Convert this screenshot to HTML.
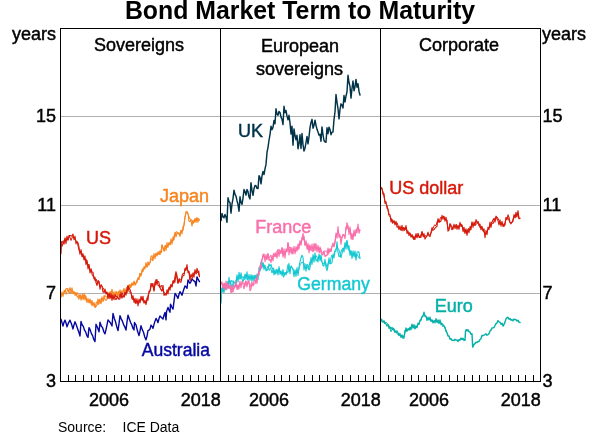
<!DOCTYPE html>
<html><head><meta charset="utf-8"><title>Bond Market Term to Maturity</title>
<style>html,body{margin:0;padding:0;background:#fff}body{width:600px;height:438px;overflow:hidden}</style>
</head><body>
<svg width="600" height="438" viewBox="0 0 600 438" style="display:block;will-change:transform">
<rect width="600" height="438" fill="#fff"/>
<line x1="60.5" x2="540.5" y1="293.5" y2="293.5" stroke="#b0b0b0" stroke-width="1" shape-rendering="crispEdges"/>
<line x1="60.5" x2="540.5" y1="205.5" y2="205.5" stroke="#b0b0b0" stroke-width="1" shape-rendering="crispEdges"/>
<line x1="60.5" x2="540.5" y1="116.5" y2="116.5" stroke="#b0b0b0" stroke-width="1" shape-rendering="crispEdges"/>
<path d="M61.00,297.22 L62.00,291.97 L63.00,296.48 L64.00,290.60 L65.00,291.18 L66.00,288.81 L67.00,288.50 L68.00,288.80 L69.00,292.16 L70.00,293.35 L71.00,291.80 L72.00,287.87 L73.00,293.61 L74.00,291.49 L75.00,295.48 L76.00,292.31 L77.00,296.29 L78.00,297.15 L79.00,299.21 L80.00,294.00 L81.00,300.28 L82.00,295.32 L83.00,299.60 L84.00,293.26 L85.00,299.87 L86.00,296.22 L87.00,302.74 L88.00,298.45 L89.00,302.59 L90.00,298.96 L91.00,304.19 L92.00,300.45 L93.00,305.99 L94.00,302.27 L95.00,307.69 L96.00,306.68 L97.00,304.62 L98.00,298.94 L99.00,303.95 L100.00,298.90 L101.00,303.65 L102.00,296.75 L103.00,301.54 L104.00,295.80 L105.00,299.26 L106.00,300.43 L107.00,299.42 L108.00,292.49 L109.00,298.15 L110.00,291.77 L111.00,294.72 L112.00,289.18 L113.00,295.85 L114.00,291.77 L115.00,296.44 L116.00,291.18 L117.00,294.75 L118.00,291.87 L119.00,296.45 L120.00,289.91 L121.00,294.32 L122.00,294.98 L123.00,290.68 L124.00,288.42 L125.00,292.36 L126.00,291.78 L127.00,290.15 L128.00,286.00 L129.00,289.75 L130.00,284.36 L131.00,286.76 L132.00,282.86 L133.00,285.55 L134.00,281.03 L135.00,285.21 L136.00,282.93 L137.00,282.45 L138.00,277.52 L139.00,279.79 L140.00,273.36 L141.00,276.26 L142.00,269.69 L143.00,271.58 L144.00,266.49 L145.00,268.48 L146.00,262.61 L147.00,266.85 L148.00,261.74 L149.00,265.15 L150.00,262.52 L151.00,256.51 L152.00,255.66 L153.00,260.32 L154.00,253.53 L155.00,258.65 L156.00,253.11 L157.00,256.08 L158.00,251.65 L159.00,254.50 L160.00,250.67 L160.75,252.65 L161.50,252.35 L162.00,244.89 L163.00,247.23 L164.00,251.48 L165.00,245.52 L166.00,250.48 L167.00,242.50 L168.00,247.27 L169.00,242.46 L170.00,244.59 L171.00,238.82 L172.00,244.09 L173.00,236.80 L174.00,239.70 L175.00,232.27 L176.00,236.78 L177.00,232.73 L178.00,233.66 L179.00,232.90 L180.00,236.40 L181.00,230.56 L182.00,233.80 L183.00,226.48 L184.00,225.79 L185.00,216.68 L186.00,213.41 L187.00,211.57 L188.00,213.53 L189.00,221.12 L190.00,221.37 L191.00,220.07 L192.00,226.07 L193.00,220.30 L194.00,222.52 L195.00,218.66 L196.00,222.43 L197.00,217.43 L197.83,222.25 L198.67,218.93 L199.50,220.00" fill="none" stroke="#f78520" stroke-width="1.1" stroke-linejoin="round" stroke-linecap="round"/>
<path d="M61.00,296.99 L62.33,293.66 L63.67,294.76 L65.00,290.11 L66.25,294.34 L67.50,289.53 L68.75,292.41 L70.00,287.49 L71.25,293.32 L72.50,290.84 L73.75,294.07 L75.00,292.23 L76.25,295.55 L77.50,292.61 L78.75,296.95 L80.00,295.17 L81.25,298.29 L82.50,294.20 L83.75,298.91 L85.00,294.90 L86.50,301.25 L88.00,300.02 L89.33,303.12 L90.67,300.02 L92.00,305.65 L93.50,303.23 L95.00,306.85 L96.50,301.80 L98.00,304.99 L99.33,299.52 L100.67,303.23 L102.00,298.29 L103.50,300.94 L105.00,295.28 L106.50,297.45 L108.00,294.89 L109.50,296.43 L111.00,291.23 L112.00,293.74 L113.00,292.37 L115.00,294.85 L116.25,292.05 L117.50,295.99 L118.75,290.93 L120.00,294.61 L121.25,290.62 L122.50,294.14 L123.75,289.92 L125.00,291.78 L126.50,287.30 L128.00,289.24 L129.33,284.22 L130.67,287.83 L132.00,282.96 L133.25,284.79 L134.50,281.75 L135.75,284.50 L137.00,279.53 L138.50,279.44 L140.00,273.24 L141.50,274.22 L143.00,268.02 L144.33,269.33 L145.67,265.73 L147.00,267.29 L148.50,264.38 L150.00,262.91 L151.25,258.71 L152.50,260.70 L153.75,256.29 L155.00,256.68 L156.25,253.28 L157.50,255.16 L158.75,252.09 L160.00,254.89 L161.50,248.24 L162.00,244.82 L163.00,248.66 L164.33,250.89 L165.67,245.08 L167.00,247.64 L168.50,243.51 L170.00,245.08 L171.50,240.62 L173.00,241.48 L174.50,234.23 L176.00,231.73 L178.00,232.51 L179.50,235.40 L181.00,230.23 L183.00,230.82 L185.00,217.52 L186.00,211.38 L188.00,214.27 L190.00,219.09 L192.00,220.04 L193.50,223.42 L195.00,218.85 L197.00,218.61 L198.25,218.81 L199.50,220.00" fill="none" stroke="#f78520" stroke-width="1.0" stroke-linejoin="round" stroke-linecap="round"/>
<path d="M61.00,319.20 L62.00,322.64 L63.00,325.99 L64.00,322.36 L65.00,320.15 L66.00,322.86 L67.00,326.83 L68.50,322.79 L70.00,320.20 L71.50,324.07 L73.00,328.93 L74.00,324.91 L75.00,321.82 L76.25,324.76 L77.50,328.42 L78.75,331.91 L80.00,335.94 L81.00,321.54 L82.17,324.98 L83.33,326.40 L84.50,330.18 L85.67,331.85 L86.83,335.55 L88.00,337.33 L89.00,327.63 L90.20,329.89 L91.40,333.64 L92.60,335.64 L93.80,339.51 L95.00,341.55 L96.00,324.17 L97.50,327.53 L99.00,331.87 L100.00,322.30 L101.25,326.03 L102.50,327.57 L103.75,331.58 L105.00,333.84 L106.50,327.36 L108.00,319.86 L109.33,321.42 L110.67,323.25 L112.00,326.00 L113.00,313.47 L114.25,318.20 L115.50,321.73 L116.75,326.69 L118.00,330.61 L119.00,323.61 L120.00,315.67 L121.20,318.87 L122.40,321.19 L123.60,324.57 L124.80,326.94 L126.00,330.07 L127.00,321.89 L128.00,315.09 L129.25,318.72 L130.50,322.35 L131.75,324.75 L133.00,328.45 L134.00,329.92 L134.50,322.57 L136.00,324.82 L137.50,331.05 L139.00,335.61 L140.00,331.24 L141.00,325.64 L142.25,329.61 L143.50,332.26 L144.75,336.95 L146.00,339.86 L147.00,336.08 L148.00,330.65 L149.00,330.12 L150.00,329.08 L151.00,325.07 L152.00,326.39 L153.00,328.44 L154.50,322.63 L156.00,318.40 L157.00,320.07 L158.00,322.65 L159.00,318.59 L160.00,315.93 L161.50,317.61 L163.00,319.12 L164.00,315.19 L165.00,312.58 L166.00,319.90 L166.50,311.84 L168.00,307.39 L169.00,310.31 L170.00,312.30 L170.50,304.13 L171.75,306.99 L173.00,309.12 L174.00,301.45 L175.00,293.48 L176.50,295.34 L178.00,298.45 L179.00,294.31 L180.00,291.77 L181.00,293.09 L182.00,295.19 L183.50,290.18 L185.00,285.92 L186.00,286.74 L187.00,288.37 L188.00,279.88 L189.00,281.90 L190.00,283.21 L191.00,281.55 L192.00,278.83 L193.50,280.62 L195.00,281.63 L196.00,285.96 L197.00,276.86 L198.25,279.73 L199.50,281.70" fill="none" stroke="#0508a0" stroke-width="1.4" stroke-linejoin="round" stroke-linecap="round"/>
<path d="M60.80,253.77 L61.30,242.88 L62.00,241.20 L63.00,242.06 L64.00,244.30 L65.00,237.91 L66.00,243.66 L67.00,236.06 L68.00,240.33 L69.00,235.47 L70.00,235.57 L71.00,235.84 L72.00,236.29 L73.00,234.02 L74.00,239.75 L75.00,236.16 L76.00,243.89 L77.00,241.65 L78.00,242.77 L79.00,247.02 L80.00,254.51 L81.00,249.63 L82.00,256.57 L83.00,253.65 L84.00,260.05 L85.00,256.05 L86.00,264.62 L87.00,260.47 L88.00,269.03 L89.00,264.25 L90.00,273.04 L91.00,268.55 L92.00,271.90 L93.00,272.29 L94.00,278.98 L95.00,277.27 L96.00,282.68 L97.00,285.48 L98.00,280.51 L99.00,281.49 L100.00,289.28 L101.00,284.50 L102.00,286.20 L103.00,292.08 L104.00,292.19 L105.00,288.94 L106.00,294.05 L107.00,291.93 L108.00,298.53 L109.00,293.06 L110.00,298.70 L111.00,293.65 L112.00,300.34 L113.00,294.99 L114.00,299.62 L115.00,294.68 L116.00,296.40 L117.00,295.96 L118.00,298.59 L119.00,299.42 L120.00,298.61 L121.00,292.49 L122.00,298.10 L123.00,295.92 L124.00,297.30 L125.00,292.19 L126.00,295.22 L127.00,288.89 L128.00,286.12 L129.00,288.06 L130.00,289.31 L131.00,292.35 L132.00,298.90 L133.00,295.59 L134.00,302.44 L135.00,298.23 L136.00,303.65 L137.00,298.72 L138.00,305.92 L139.00,298.96 L140.00,302.99 L141.00,296.26 L142.00,300.05 L143.00,296.25 L144.00,303.20 L145.00,300.31 L146.00,304.68 L147.00,297.72 L148.00,300.25 L149.00,290.94 L150.00,291.26 L151.00,283.41 L152.00,286.15 L153.00,283.52 L154.00,291.30 L155.00,281.74 L156.00,284.82 L157.00,279.62 L158.00,285.26 L159.00,285.92 L160.00,287.71 L161.00,289.63 L162.00,291.21 L163.00,285.40 L164.00,295.38 L165.00,293.53 L166.00,295.30 L167.00,289.80 L168.00,293.94 L169.00,287.26 L170.00,290.16 L171.00,284.27 L172.00,287.08 L173.00,280.77 L174.00,283.26 L175.00,276.41 L176.00,271.67 L177.00,275.54 L178.00,282.97 L179.00,278.95 L180.00,282.17 L181.00,282.21 L182.00,277.85 L183.00,275.60 L184.00,275.43 L185.00,268.66 L186.00,270.35 L187.00,264.63 L188.00,272.70 L189.00,271.65 L190.00,279.77 L191.00,274.16 L192.00,277.45 L193.00,272.87 L194.00,277.12 L195.00,269.53 L196.00,273.99 L197.00,268.39 L198.00,272.26 L198.75,270.98 L199.50,276.70" fill="none" stroke="#d5190a" stroke-width="1.1" stroke-linejoin="round" stroke-linecap="round"/>
<path d="M60.80,253.95 L61.30,243.35 L62.00,246.54 L63.50,240.69 L65.00,239.30 L66.50,238.49 L68.00,239.69 L69.50,236.07 L71.00,240.47 L72.50,236.63 L74.00,238.44 L76.00,240.31 L77.33,242.11 L78.67,249.08 L80.00,252.86 L81.25,251.23 L82.50,257.14 L83.75,255.32 L85.00,260.23 L86.25,259.17 L87.50,263.43 L88.75,265.20 L90.00,270.89 L91.25,270.84 L92.50,275.99 L93.75,276.06 L95.00,280.67 L96.25,279.08 L97.50,284.33 L98.75,281.68 L100.00,286.97 L101.25,285.10 L102.50,287.23 L103.75,289.19 L105.00,292.92 L106.50,292.11 L108.00,296.15 L109.33,293.61 L110.67,297.36 L112.00,294.86 L113.33,298.60 L114.67,296.84 L116.00,299.98 L117.33,296.68 L118.67,299.01 L120.00,294.30 L121.25,297.44 L122.50,292.95 L123.75,296.97 L125.00,292.09 L127.00,293.31 L128.00,285.44 L129.00,291.79 L131.00,292.62 L132.50,299.50 L134.00,299.11 L135.33,303.36 L136.67,300.73 L138.00,303.40 L139.50,302.08 L141.00,299.92 L142.00,298.93 L143.50,302.06 L145.00,302.71 L146.50,302.93 L148.00,295.17 L150.00,291.01 L152.00,283.32 L154.00,290.48 L156.00,279.45 L157.33,283.61 L158.67,281.27 L160.00,287.51 L161.50,285.02 L163.00,290.55 L165.00,293.65 L166.50,294.57 L168.00,289.76 L169.33,287.91 L170.67,285.20 L172.00,286.35 L173.50,280.52 L175.00,282.32 L176.00,273.36 L178.00,283.58 L179.50,278.67 L181.00,280.49 L182.50,273.65 L184.00,273.67 L185.50,267.77 L187.00,269.12 L189.00,271.75 L190.00,280.68 L191.50,279.29 L193.00,276.79 L194.50,271.87 L196.00,273.60 L198.00,272.02 L199.50,276.70" fill="none" stroke="#d5190a" stroke-width="1.0" stroke-linejoin="round" stroke-linecap="round"/>
<path d="M221.00,302.33 L221.50,288.11 L222.25,291.73 L223.00,284.29 L224.00,292.68 L225.00,284.62 L226.00,289.60 L227.00,283.32 L228.00,288.03 L229.00,277.40 L230.00,285.65 L231.00,280.37 L232.00,281.22 L233.00,281.08 L234.00,286.87 L235.00,285.66 L236.00,285.17 L237.00,274.88 L238.00,282.21 L239.00,272.18 L240.00,279.28 L241.00,272.90 L242.00,279.06 L243.00,281.84 L244.00,278.66 L245.00,274.02 L246.00,279.15 L247.00,271.78 L248.00,280.48 L249.00,274.59 L250.00,280.51 L251.00,274.61 L252.00,281.37 L253.00,275.18 L254.00,281.28 L255.00,274.97 L256.00,278.65 L257.00,274.12 L258.00,279.64 L259.00,267.43 L260.00,269.56 L261.00,261.62 L262.00,267.94 L263.00,262.43 L264.00,269.73 L265.00,265.25 L266.00,270.87 L267.00,270.43 L268.00,269.16 L269.00,263.88 L270.00,266.23 L271.00,264.44 L272.00,267.77 L273.00,268.87 L274.00,275.00 L275.00,270.06 L276.00,273.77 L277.00,269.17 L278.00,275.01 L279.00,266.47 L280.00,274.40 L281.00,271.05 L282.00,275.67 L283.00,269.46 L284.00,276.04 L285.00,272.65 L286.00,274.81 L287.00,272.00 L288.00,272.25 L289.00,263.36 L290.00,273.80 L291.00,265.71 L292.00,267.57 L293.00,269.13 L294.00,276.58 L295.00,269.82 L296.00,276.53 L297.00,267.61 L298.00,275.49 L299.00,266.76 L300.00,261.85 L301.00,257.95 L302.00,255.16 L303.00,257.35 L304.00,269.89 L305.00,264.55 L306.00,271.26 L307.00,264.69 L308.00,264.80 L309.00,270.06 L310.00,268.17 L311.00,257.47 L312.00,264.57 L313.00,254.59 L314.00,262.18 L315.00,252.88 L316.00,260.92 L317.00,259.63 L318.00,261.88 L319.00,254.01 L320.00,260.75 L321.00,254.81 L322.00,261.70 L323.00,265.73 L324.00,265.90 L325.00,259.34 L326.00,267.02 L327.00,270.68 L328.00,266.03 L329.00,257.87 L330.00,263.82 L331.00,263.65 L332.00,262.65 L333.00,254.14 L334.00,257.98 L335.00,251.21 L336.00,251.27 L337.00,241.77 L338.00,252.15 L339.00,256.49 L340.00,256.34 L341.00,251.80 L342.00,249.71 L343.00,248.44 L344.00,251.90 L345.00,242.55 L346.00,249.27 L347.00,240.70 L348.00,248.93 L349.00,245.73 L350.00,255.40 L351.00,250.95 L352.00,258.53 L353.00,250.85 L354.00,256.79 L355.00,250.94 L356.00,260.19 L357.00,252.28 L358.00,251.73 L359.00,252.09 L360.00,258.30" fill="none" stroke="#14c8d2" stroke-width="1.1" stroke-linejoin="round" stroke-linecap="round"/>
<path d="M221.00,303.29 L221.50,288.59 L223.00,292.40 L224.50,286.11 L226.00,289.49 L227.50,281.40 L229.00,282.89 L230.50,281.36 L232.00,288.18 L233.50,280.82 L235.00,283.90 L237.00,276.61 L238.50,279.27 L240.00,277.97 L241.50,278.45 L243.00,276.40 L244.50,279.60 L246.00,274.36 L247.50,279.92 L249.00,275.83 L250.50,279.14 L252.00,275.61 L253.50,278.63 L255.00,275.29 L256.50,279.39 L258.00,273.90 L260.00,271.31 L262.00,263.23 L263.50,263.72 L265.00,267.11 L266.50,269.51 L268.00,266.06 L269.33,270.60 L270.67,267.37 L272.00,272.97 L273.50,267.86 L275.00,274.23 L276.50,269.17 L278.00,272.75 L279.33,268.46 L280.67,273.76 L282.00,271.42 L283.50,277.25 L285.00,272.34 L286.50,272.98 L288.00,264.56 L289.33,271.93 L290.67,266.94 L292.00,267.40 L293.50,270.11 L295.00,273.99 L296.50,269.68 L298.00,273.24 L300.00,264.87 L302.00,262.02 L304.00,263.74 L305.50,264.05 L307.00,266.21 L308.50,269.38 L310.00,261.72 L312.00,258.76 L313.50,256.47 L315.00,258.94 L316.50,255.76 L318.00,259.49 L319.50,255.32 L321.00,260.96 L322.50,262.37 L324.00,263.91 L325.50,262.05 L327.00,267.27 L328.50,261.69 L330.00,263.68 L331.50,255.29 L333.00,258.03 L335.00,250.47 L337.00,247.40 L339.00,249.78 L341.00,257.73 L343.00,249.72 L345.00,245.26 L347.00,240.46 L349.00,251.06 L351.00,250.58 L352.50,256.46 L354.00,252.51 L355.50,257.52 L357.00,254.09 L359.00,258.01 L360.00,258.30" fill="none" stroke="#14c8d2" stroke-width="1.0" stroke-linejoin="round" stroke-linecap="round"/>
<path d="M221.00,284.68 L222.00,281.72 L223.00,288.09 L224.00,283.00 L225.00,290.00 L226.00,281.15 L227.00,289.24 L228.00,283.00 L229.00,288.25 L230.00,285.32 L231.00,293.08 L232.00,285.71 L233.00,291.99 L234.00,285.16 L235.00,287.23 L236.00,281.16 L237.00,289.71 L238.00,284.91 L239.00,288.85 L240.00,281.05 L241.00,287.93 L242.00,281.37 L243.00,282.96 L244.00,283.25 L245.00,286.21 L246.00,280.92 L247.00,286.86 L248.00,280.99 L249.00,280.73 L250.00,290.71 L251.00,289.09 L252.00,282.57 L253.00,286.08 L254.00,284.00 L255.00,283.77 L256.00,278.61 L257.00,283.50 L258.00,273.99 L259.00,275.44 L260.00,265.62 L261.00,268.89 L262.00,260.07 L263.00,257.62 L264.00,253.76 L265.00,261.69 L266.00,254.53 L267.00,259.48 L268.00,254.03 L269.00,260.34 L270.00,259.12 L271.00,262.63 L272.00,255.38 L273.00,260.78 L274.00,253.01 L275.00,256.69 L276.00,252.82 L277.00,258.30 L278.00,249.24 L279.00,256.38 L280.00,250.18 L281.00,253.45 L282.00,248.27 L283.00,257.20 L284.00,248.68 L285.00,258.21 L286.00,248.82 L287.00,251.91 L288.00,242.68 L289.00,254.86 L290.00,247.32 L291.00,252.95 L292.00,247.46 L293.00,253.90 L294.00,246.35 L295.00,253.82 L296.00,246.66 L297.00,251.35 L298.00,244.11 L299.00,248.90 L300.00,240.66 L301.00,244.04 L302.00,237.22 L303.00,239.82 L304.00,236.08 L305.00,245.72 L306.00,240.52 L307.00,248.93 L308.00,243.26 L309.00,252.97 L310.00,244.99 L311.00,250.63 L312.00,244.02 L313.00,252.02 L314.00,243.34 L315.00,250.93 L316.00,243.64 L317.00,251.92 L318.00,245.27 L319.00,251.05 L320.00,246.86 L321.00,252.62 L322.00,254.51 L323.00,255.02 L324.00,251.24 L325.00,256.61 L326.00,255.41 L327.00,255.60 L328.00,248.06 L329.00,253.18 L330.00,248.50 L331.00,251.62 L332.00,246.40 L333.00,242.99 L334.00,246.95 L335.00,243.41 L336.00,233.17 L337.00,238.11 L338.00,226.45 L339.00,237.34 L340.00,234.71 L341.00,244.40 L342.00,237.17 L343.00,234.24 L344.00,235.06 L345.00,238.65 L346.00,226.70 L347.00,228.62 L348.00,225.47 L349.00,234.64 L350.00,226.84 L351.00,238.59 L352.00,233.37 L353.00,239.59 L354.00,230.02 L355.00,235.80 L356.00,229.71 L357.00,233.02 L358.00,224.06 L359.00,233.25 L360.00,230.00" fill="none" stroke="#fa6eaa" stroke-width="1.1" stroke-linejoin="round" stroke-linecap="round"/>
<path d="M221.00,282.27 L222.00,284.58 L223.00,287.11 L224.50,283.11 L226.00,288.62 L227.50,283.58 L229.00,288.70 L230.50,285.54 L232.00,292.36 L233.50,290.10 L235.00,286.61 L236.50,284.20 L238.00,289.48 L239.50,283.52 L241.00,284.83 L242.50,282.49 L244.00,288.88 L245.50,280.81 L247.00,284.44 L248.50,281.95 L250.00,287.39 L251.50,282.42 L253.00,284.67 L254.50,279.98 L256.00,283.33 L258.00,273.65 L260.00,269.17 L262.00,258.94 L263.00,254.09 L265.00,256.94 L266.50,259.64 L268.00,253.41 L269.33,258.23 L270.67,255.26 L272.00,260.03 L273.50,253.64 L275.00,256.92 L276.50,251.37 L278.00,250.68 L279.33,249.67 L280.67,253.49 L282.00,247.42 L283.50,255.53 L285.00,251.65 L287.00,251.38 L288.00,242.74 L289.00,247.36 L290.50,247.39 L292.00,254.21 L293.50,248.62 L295.00,252.06 L296.50,247.62 L298.00,249.85 L299.50,242.61 L301.00,245.53 L303.00,233.33 L305.00,245.09 L306.50,243.68 L308.00,249.90 L309.33,244.96 L310.67,249.65 L312.00,250.91 L313.50,250.65 L315.00,244.05 L316.50,249.56 L318.00,247.06 L319.33,253.10 L320.67,248.12 L322.00,253.61 L323.50,251.15 L325.00,251.28 L326.50,250.80 L328.00,254.50 L329.33,249.18 L330.67,251.99 L332.00,245.99 L334.00,245.94 L336.00,235.50 L338.00,231.91 L340.00,235.98 L342.00,238.08 L343.50,234.84 L345.00,236.23 L347.00,222.63 L348.50,230.03 L350.00,228.74 L352.00,239.54 L353.50,234.60 L355.00,236.32 L356.50,228.93 L358.00,226.97 L359.00,229.27 L360.00,230.00" fill="none" stroke="#fa6eaa" stroke-width="1.0" stroke-linejoin="round" stroke-linecap="round"/>
<path d="M221.00,220.62 L222.00,213.54 L223.00,216.69 L224.00,217.85 L225.00,214.40 L226.00,216.97 L227.00,222.28 L228.00,197.81 L229.00,201.58 L230.00,202.68 L231.00,213.12 L232.00,203.80 L233.00,198.56 L234.00,190.18 L235.00,194.41 L236.00,196.16 L237.00,200.70 L238.00,204.61 L239.00,211.20 L240.00,196.83 L241.00,202.60 L242.00,204.38 L243.00,198.08 L244.00,189.48 L245.00,191.62 L246.00,195.14 L247.00,189.47 L248.00,191.60 L249.00,197.02 L250.00,198.88 L251.00,182.73 L252.00,190.67 L253.00,195.38 L254.00,188.68 L255.00,185.41 L256.00,185.70 L257.00,188.41 L258.00,188.61 L259.00,175.71 L260.00,177.38 L261.00,183.85 L262.00,175.95 L263.00,171.42 L264.00,174.55 L265.00,168.94 L266.00,164.41 L267.00,152.46 L268.00,147.30 L269.00,140.28 L270.00,134.60 L271.00,126.24 L272.00,129.66 L273.00,127.36 L274.00,120.45 L275.00,123.76 L276.00,108.79 L277.00,114.05 L278.00,115.25 L279.00,111.48 L280.00,112.45 L281.00,117.12 L282.00,119.31 L283.00,124.64 L284.00,106.24 L285.00,112.73 L286.00,110.53 L287.00,116.00 L288.00,119.85 L289.00,115.31 L290.00,122.84 L291.00,133.91 L292.00,126.24 L293.00,145.27 L294.00,128.91 L295.00,135.50 L296.00,139.73 L297.00,135.27 L298.00,148.75 L299.00,143.43 L300.00,134.72 L301.00,148.56 L302.00,133.52 L303.00,144.62 L304.00,151.13 L305.00,148.21 L306.00,142.63 L307.00,136.41 L308.00,143.84 L309.00,136.87 L310.00,127.59 L311.00,122.43 L312.00,119.35 L313.00,128.20 L314.00,125.45 L315.00,120.26 L316.00,125.26 L317.00,129.33 L318.00,132.10 L319.00,135.14 L320.00,134.31 L321.00,141.31 L322.00,126.92 L323.00,134.98 L324.00,140.47 L325.00,141.88 L326.00,142.27 L327.00,127.79 L328.00,133.71 L329.00,127.11 L330.00,129.53 L331.00,134.67 L332.00,132.10 L333.00,132.04 L334.00,119.39 L335.00,112.01 L336.00,94.59 L337.00,102.12 L338.00,108.77 L339.00,118.88 L340.00,109.38 L341.00,103.85 L342.00,105.05 L343.00,107.89 L344.00,95.56 L345.00,101.97 L346.00,96.03 L347.00,91.93 L348.00,75.19 L349.00,82.50 L350.00,86.34 L351.00,98.08 L352.00,88.40 L353.00,81.08 L354.00,90.71 L355.00,86.70 L356.00,79.44 L357.00,87.24 L358.00,83.76 L359.00,91.45 L360.00,95.00" fill="none" stroke="#003348" stroke-width="1.45" stroke-linejoin="round" stroke-linecap="round"/>
<path d="M381.00,319.40 L382.00,321.51 L383.00,322.20 L384.00,320.75 L385.00,323.31 L386.00,324.03 L387.00,325.99 L388.00,324.56 L389.00,328.24 L390.00,326.92 L391.00,328.75 L392.00,327.56 L393.00,329.83 L394.00,328.83 L395.00,332.44 L396.00,330.95 L397.00,331.22 L398.00,332.61 L399.00,335.61 L400.00,333.55 L401.00,337.40 L402.00,334.92 L403.00,338.32 L404.00,336.11 L405.00,332.49 L406.00,327.84 L407.00,331.23 L408.00,328.61 L409.00,330.18 L410.00,327.26 L411.00,329.77 L412.00,324.16 L413.00,328.20 L414.00,324.62 L415.00,328.81 L416.00,325.78 L417.00,327.79 L418.00,323.18 L419.00,324.38 L420.00,320.14 L421.00,320.24 L422.00,316.79 L423.00,316.42 L424.00,312.11 L425.00,316.33 L426.00,316.08 L427.00,320.27 L428.00,317.21 L429.00,320.15 L430.00,317.08 L431.00,321.30 L432.00,319.84 L433.00,322.95 L434.00,320.61 L435.00,322.86 L436.00,318.62 L437.00,322.28 L438.00,321.61 L439.00,323.52 L440.00,319.83 L441.00,324.50 L442.00,323.46 L443.00,324.67 L444.00,325.77 L445.00,327.35 L446.00,330.80" fill="none" stroke="#04b0a8" stroke-width="1.3" stroke-linejoin="round" stroke-linecap="round"/>
<path d="M381.00,318.70 L383.00,320.42 L384.50,323.53 L386.00,322.12 L387.50,323.62 L389.00,325.72 L391.00,331.67 L393.00,327.82 L394.50,331.96 L396.00,331.68 L397.50,334.35 L399.00,333.52 L400.50,335.96 L402.00,335.98 L404.00,338.36 L405.00,330.00 L407.00,331.18 L408.50,328.63 L410.00,329.73 L412.00,325.07 L413.50,327.15 L415.00,328.29 L416.50,327.19 L418.00,324.38 L420.00,321.45 L422.00,316.64 L424.00,314.06 L426.00,317.09 L427.50,318.99 L429.00,318.42 L430.50,320.50 L432.00,319.83 L433.50,321.74 L435.00,320.77 L436.50,321.56 L438.00,319.60 L439.50,322.13 L441.00,322.34 L442.50,326.41 L444.00,325.96 L446.00,330.80" fill="none" stroke="#04b0a8" stroke-width="1.0" stroke-linejoin="round" stroke-linecap="round"/>
<path d="M446.00,331.08 L447.00,332.83 L448.00,336.02 L449.00,336.05 L450.00,339.15 L451.00,338.53 L452.00,340.35 L453.00,340.18 L454.00,340.58 L455.00,339.30 L456.00,340.14 L457.00,339.92 L458.00,341.41 L459.00,339.66 L460.00,340.11 L461.00,338.21 L462.00,339.42 L463.00,338.24 L464.00,340.40 L465.00,340.24 L465.50,331.42 L466.33,329.57 L467.17,330.99 L468.00,329.76 L469.00,331.69 L470.00,332.03 L471.00,334.32 L472.00,333.74 L472.70,347.10 L473.85,344.58 L475.00,343.69 L476.00,342.22 L477.00,342.60 L478.00,341.41 L479.00,341.53 L480.00,339.45 L481.00,338.59 L482.00,335.34 L483.00,335.73 L484.00,335.21 L485.00,334.50 L486.00,333.83 L487.00,335.22 L488.00,334.63 L489.00,333.75 L490.00,331.02 L491.00,330.15 L492.00,327.94 L493.00,327.89 L494.00,327.52 L495.00,325.54 L496.00,323.66 L497.00,322.98 L498.00,320.59 L499.00,321.91 L500.00,322.25 L501.00,324.24 L502.00,323.24 L503.00,326.05 L504.00,324.48 L505.00,322.13 L506.00,318.84 L507.00,317.73 L508.00,317.26 L509.00,319.23 L510.00,318.52 L511.00,320.19 L512.00,319.73 L513.00,320.73 L514.00,319.03 L515.00,319.56 L516.00,319.73 L517.00,321.02 L518.00,320.26 L519.00,322.18 L520.00,322.50" fill="none" stroke="#04b0a8" stroke-width="1.45" stroke-linejoin="round" stroke-linecap="round"/>
<path d="M381.00,187.36 L382.00,188.23 L383.00,194.52 L384.00,193.65 L385.00,203.35 L386.00,201.65 L387.00,208.18 L388.00,208.77 L389.00,214.37 L390.00,214.66 L391.00,221.92 L392.00,219.20 L393.00,222.84 L394.00,220.58 L395.00,224.83 L396.00,221.30 L397.00,227.17 L398.00,226.52 L399.00,229.60 L400.00,226.02 L401.00,230.40 L402.00,225.38 L403.00,230.87 L404.00,227.43 L405.00,229.79 L406.00,225.61 L407.00,233.43 L408.00,231.01 L409.00,235.61 L410.00,232.98 L411.00,237.23 L412.00,234.56 L413.00,238.25 L414.00,236.64 L415.00,239.38 L416.00,233.49 L417.00,237.76 L418.00,233.20 L419.00,237.30 L420.00,237.53 L421.00,237.39 L422.00,231.88 L423.00,236.00 L424.00,233.49 L425.00,239.12 L426.00,237.05 L427.00,236.17 L428.00,232.12 L429.00,235.87 L430.00,236.65 L431.00,232.43 L432.00,227.49 L433.00,230.29 L434.00,229.65 L435.00,228.18 L436.00,227.10 L437.00,226.25 L438.00,218.49 L439.00,222.24 L440.00,221.77 L441.00,221.06 L442.00,215.35 L443.00,219.31 L444.00,216.40 L445.00,221.07 L446.00,217.18 L447.00,222.76 L448.00,228.44 L449.00,230.23 L450.00,223.55 L451.00,225.17 L452.00,227.11 L453.00,229.24 L454.00,224.18 L455.00,228.70 L456.00,224.67 L457.00,229.26 L458.00,225.66 L459.00,229.32 L460.00,222.34 L461.00,226.55 L462.00,224.93 L463.00,231.40 L464.00,227.21 L465.00,233.51 L466.00,228.87 L467.00,235.53 L468.00,229.20 L469.00,232.74 L470.00,226.59 L471.00,229.68 L472.00,221.75 L473.00,227.41 L474.00,221.98 L475.00,225.49 L476.00,219.49 L477.00,222.88 L478.00,221.40 L479.00,225.73 L480.00,224.13 L481.00,229.80 L482.00,226.25 L483.00,231.00 L484.00,228.68 L485.00,237.80 L486.00,230.38 L487.00,234.66 L488.00,227.12 L489.00,229.44 L490.00,222.12 L491.00,227.38 L492.00,221.99 L493.00,219.85 L494.00,218.63 L495.00,222.17 L496.00,216.16 L497.00,218.88 L498.00,220.53 L499.00,224.91 L500.00,219.89 L501.00,226.23 L502.00,221.26 L503.00,226.68 L504.00,223.93 L505.00,225.16 L506.00,217.26 L507.00,219.75 L508.00,214.75 L509.00,217.47 L510.00,222.45 L511.00,223.84 L512.00,222.08 L513.00,221.49 L514.00,214.52 L515.00,218.05 L516.00,212.23 L517.00,216.86 L518.00,210.61 L519.00,218.84 L520.00,218.30" fill="none" stroke="#d5190a" stroke-width="1.1" stroke-linejoin="round" stroke-linecap="round"/>
<path d="M381.00,187.48 L383.00,191.52 L385.00,201.58 L387.00,205.40 L389.00,215.47 L391.00,217.95 L392.50,223.42 L394.00,220.97 L395.50,224.09 L397.00,222.66 L398.50,226.63 L400.00,228.44 L401.50,230.41 L403.00,227.27 L404.50,230.63 L406.00,227.32 L408.00,233.43 L409.50,232.66 L411.00,236.13 L412.50,235.14 L414.00,240.00 L415.50,235.22 L417.00,237.18 L418.50,234.74 L420.00,237.53 L422.00,231.55 L423.50,237.18 L425.00,235.49 L426.50,236.87 L428.00,233.07 L430.00,235.48 L431.50,231.98 L433.00,228.31 L434.50,224.92 L436.00,225.53 L437.50,220.49 L439.00,222.32 L440.50,217.44 L442.00,218.31 L443.50,215.89 L445.00,219.93 L447.00,219.74 L448.00,231.40 L450.00,224.32 L452.00,230.05 L453.50,225.83 L455.00,226.79 L456.50,224.35 L458.00,228.11 L459.50,224.30 L461.00,223.68 L463.00,227.90 L464.33,232.41 L465.67,229.44 L467.00,233.35 L468.50,228.35 L470.00,230.33 L472.00,222.73 L473.50,225.14 L475.00,225.20 L477.00,223.58 L478.50,222.38 L480.00,227.80 L481.50,226.58 L483.00,230.36 L485.00,234.01 L486.50,233.73 L488.00,229.24 L490.00,227.04 L491.50,222.22 L493.00,223.82 L495.00,217.88 L497.00,216.73 L499.00,220.44 L500.50,224.62 L502.00,222.78 L504.00,226.66 L506.00,218.31 L508.00,217.94 L510.00,222.69 L512.00,222.74 L514.00,215.81 L516.00,217.22 L518.00,212.89 L519.00,218.58 L520.00,218.30" fill="none" stroke="#d5190a" stroke-width="1.0" stroke-linejoin="round" stroke-linecap="round"/>
<g stroke="#000" stroke-width="1" fill="none" shape-rendering="crispEdges">
<rect x="60.5" y="28.5" width="480.0" height="353.0"/>
<line x1="220.5" x2="220.5" y1="28.5" y2="381.5"/>
<line x1="380.5" x2="380.5" y1="28.5" y2="381.5"/>
<line x1="68.5" x2="68.5" y1="375.0" y2="381.5"/>
<line x1="75.5" x2="75.5" y1="375.0" y2="381.5"/>
<line x1="83.5" x2="83.5" y1="375.0" y2="381.5"/>
<line x1="91.5" x2="91.5" y1="375.0" y2="381.5"/>
<line x1="98.5" x2="98.5" y1="375.0" y2="381.5"/>
<line x1="106.5" x2="106.5" y1="375.0" y2="381.5"/>
<line x1="114.5" x2="114.5" y1="375.0" y2="381.5"/>
<line x1="121.5" x2="121.5" y1="375.0" y2="381.5"/>
<line x1="129.5" x2="129.5" y1="375.0" y2="381.5"/>
<line x1="137.5" x2="137.5" y1="375.0" y2="381.5"/>
<line x1="144.5" x2="144.5" y1="375.0" y2="381.5"/>
<line x1="152.5" x2="152.5" y1="375.0" y2="381.5"/>
<line x1="159.5" x2="159.5" y1="375.0" y2="381.5"/>
<line x1="167.5" x2="167.5" y1="375.0" y2="381.5"/>
<line x1="175.5" x2="175.5" y1="375.0" y2="381.5"/>
<line x1="182.5" x2="182.5" y1="375.0" y2="381.5"/>
<line x1="190.5" x2="190.5" y1="375.0" y2="381.5"/>
<line x1="198.5" x2="198.5" y1="375.0" y2="381.5"/>
<line x1="205.5" x2="205.5" y1="375.0" y2="381.5"/>
<line x1="213.5" x2="213.5" y1="375.0" y2="381.5"/>
<line x1="228.5" x2="228.5" y1="375.0" y2="381.5"/>
<line x1="235.5" x2="235.5" y1="375.0" y2="381.5"/>
<line x1="243.5" x2="243.5" y1="375.0" y2="381.5"/>
<line x1="251.5" x2="251.5" y1="375.0" y2="381.5"/>
<line x1="258.5" x2="258.5" y1="375.0" y2="381.5"/>
<line x1="266.5" x2="266.5" y1="375.0" y2="381.5"/>
<line x1="274.5" x2="274.5" y1="375.0" y2="381.5"/>
<line x1="281.5" x2="281.5" y1="375.0" y2="381.5"/>
<line x1="289.5" x2="289.5" y1="375.0" y2="381.5"/>
<line x1="297.5" x2="297.5" y1="375.0" y2="381.5"/>
<line x1="304.5" x2="304.5" y1="375.0" y2="381.5"/>
<line x1="312.5" x2="312.5" y1="375.0" y2="381.5"/>
<line x1="319.5" x2="319.5" y1="375.0" y2="381.5"/>
<line x1="327.5" x2="327.5" y1="375.0" y2="381.5"/>
<line x1="335.5" x2="335.5" y1="375.0" y2="381.5"/>
<line x1="342.5" x2="342.5" y1="375.0" y2="381.5"/>
<line x1="350.5" x2="350.5" y1="375.0" y2="381.5"/>
<line x1="358.5" x2="358.5" y1="375.0" y2="381.5"/>
<line x1="365.5" x2="365.5" y1="375.0" y2="381.5"/>
<line x1="373.5" x2="373.5" y1="375.0" y2="381.5"/>
<line x1="388.5" x2="388.5" y1="375.0" y2="381.5"/>
<line x1="395.5" x2="395.5" y1="375.0" y2="381.5"/>
<line x1="403.5" x2="403.5" y1="375.0" y2="381.5"/>
<line x1="411.5" x2="411.5" y1="375.0" y2="381.5"/>
<line x1="418.5" x2="418.5" y1="375.0" y2="381.5"/>
<line x1="426.5" x2="426.5" y1="375.0" y2="381.5"/>
<line x1="434.5" x2="434.5" y1="375.0" y2="381.5"/>
<line x1="441.5" x2="441.5" y1="375.0" y2="381.5"/>
<line x1="449.5" x2="449.5" y1="375.0" y2="381.5"/>
<line x1="457.5" x2="457.5" y1="375.0" y2="381.5"/>
<line x1="464.5" x2="464.5" y1="375.0" y2="381.5"/>
<line x1="472.5" x2="472.5" y1="375.0" y2="381.5"/>
<line x1="479.5" x2="479.5" y1="375.0" y2="381.5"/>
<line x1="487.5" x2="487.5" y1="375.0" y2="381.5"/>
<line x1="495.5" x2="495.5" y1="375.0" y2="381.5"/>
<line x1="502.5" x2="502.5" y1="375.0" y2="381.5"/>
<line x1="510.5" x2="510.5" y1="375.0" y2="381.5"/>
<line x1="518.5" x2="518.5" y1="375.0" y2="381.5"/>
<line x1="525.5" x2="525.5" y1="375.0" y2="381.5"/>
<line x1="533.5" x2="533.5" y1="375.0" y2="381.5"/>
</g>
<g font-family="'Liberation Sans', Arial, sans-serif" fill="#000" font-size="18" stroke-width="0.45">
<text x="300" y="18.8" font-size="24.85" font-weight="bold" text-anchor="middle">Bond Market Term to Maturity</text>
<text x="56" y="386.5" text-anchor="end" stroke="#000">3</text>
<text x="542.5" y="386.5" stroke="#000">3</text>
<text x="56" y="298.5" text-anchor="end" stroke="#000">7</text>
<text x="542.5" y="298.5" stroke="#000">7</text>
<text x="56" y="210.5" text-anchor="end" stroke="#000">11</text>
<text x="542.5" y="210.5" stroke="#000">11</text>
<text x="56" y="121.5" text-anchor="end" stroke="#000">15</text>
<text x="542.5" y="121.5" stroke="#000">15</text>
<text x="56" y="40" text-anchor="end" stroke="#000">years</text>
<text x="542" y="40" stroke="#000">years</text>
<text x="139" y="51" text-anchor="middle" stroke="#000">Sovereigns</text>
<text x="300" y="51.5" text-anchor="middle" stroke="#000">European</text>
<text x="299.6" y="74.5" text-anchor="middle" stroke="#000">sovereigns</text>
<text x="459" y="51" text-anchor="middle" stroke="#000">Corporate</text>
<text x="109" y="406" text-anchor="middle" stroke="#000" stroke-width="0.45">2006</text>
<text x="200.8" y="406" text-anchor="middle" stroke="#000" stroke-width="0.45">2018</text>
<text x="269" y="406" text-anchor="middle" stroke="#000" stroke-width="0.45">2006</text>
<text x="360.8" y="406" text-anchor="middle" stroke="#000" stroke-width="0.45">2018</text>
<text x="429" y="406" text-anchor="middle" stroke="#000" stroke-width="0.45">2006</text>
<text x="520.8" y="406" text-anchor="middle" stroke="#000" stroke-width="0.45">2018</text>
<text x="58" y="432" font-size="14">Source:</text>
<text x="122.5" y="432" font-size="14">ICE Data</text>
<text x="86.1" y="244.3" fill="#d5190a" stroke="#d5190a">US</text>
<text x="160" y="202.4" fill="#f78520" stroke="#f78520">Japan</text>
<text x="141.8" y="356.3" fill="#0508a0" stroke="#0508a0" textLength="68.2" lengthAdjust="spacingAndGlyphs">Australia</text>
<text x="238" y="137" fill="#003348" stroke="#003348">UK</text>
<text x="255.2" y="233.3" fill="#fa6eaa" stroke="#fa6eaa">France</text>
<text x="297.3" y="290" fill="#14c8d2" stroke="#14c8d2" textLength="72.6" lengthAdjust="spacingAndGlyphs">Germany</text>
<text x="389.2" y="193.7" fill="#d5190a" stroke="#d5190a">US dollar</text>
<text x="434.8" y="312" fill="#04b0a8" stroke="#04b0a8">Euro</text>
</g></svg>
</body></html>
